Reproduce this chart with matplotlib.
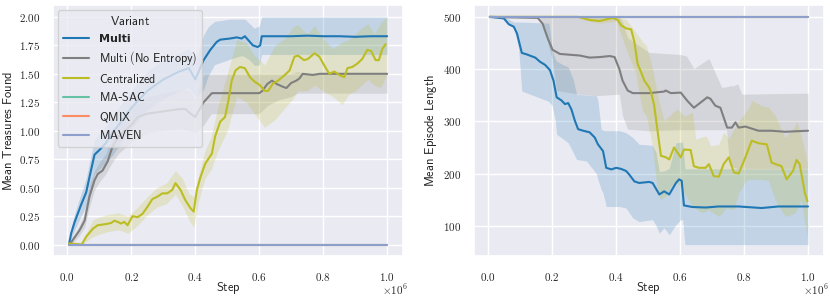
import numpy as np
import matplotlib
matplotlib.use('Agg')
import matplotlib.pyplot as plt
import seaborn as sns
from matplotlib.ticker import FuncFormatter, FixedLocator

sns.set_theme(style='darkgrid')
plt.rcParams['mathtext.fontset'] = 'cm'
plt.rcParams['font.family'] = ['DejaVu Sans']

# steps are in units of 1e6
# ---------------- left: mean treasures found ----------------
tr_multi_x = [0.005, 0.012, 0.023, 0.043, 0.059, 0.069, 0.085, 0.10, 0.12, 0.14, 0.16, 0.20, 0.25, 0.30, 0.35,
              0.38, 0.40, 0.426, 0.447, 0.467, 0.478, 0.509, 0.53, 0.545, 0.555, 0.566, 0.58, 0.595, 0.603, 0.608,
              0.65, 0.70, 0.75, 0.80, 0.85, 0.90, 0.95, 1.0]
tr_multi_y = [0.0, 0.10, 0.20, 0.35, 0.46, 0.59, 0.79, 0.83, 0.89, 0.98, 1.05, 1.20, 1.35, 1.45, 1.52,
              1.55, 1.45, 1.62, 1.71, 1.78, 1.80, 1.81, 1.82, 1.81, 1.83, 1.795, 1.75, 1.735, 1.75, 1.83,
              1.83, 1.83, 1.835, 1.83, 1.83, 1.825, 1.83, 1.83]
tr_multi_bx = [0.005, 0.012, 0.023, 0.043, 0.059, 0.069, 0.085, 0.10, 0.12, 0.14, 0.16, 0.20, 0.25, 0.30, 0.35,
               0.38, 0.40, 0.426, 0.44, 0.46, 0.51, 0.545, 0.555, 0.57, 0.585, 0.60, 0.608, 1.0]
tr_multi_lo = [0.0, 0.05, 0.13, 0.25, 0.34, 0.45, 0.62, 0.66, 0.72, 0.78, 0.86, 1.02, 1.18, 1.28, 1.35,
               1.38, 1.30, 1.36, 1.48, 1.58, 1.63, 1.66, 1.65, 1.62, 1.575, 1.575, 1.67, 1.67]
tr_multi_hi = [0.0, 0.15, 0.27, 0.45, 0.58, 0.72, 0.92, 0.97, 1.03, 1.12, 1.20, 1.35, 1.52, 1.62, 1.68,
               1.72, 1.60, 1.84, 1.91, 1.96, 1.98, 1.98, 1.98, 1.94, 1.90, 1.92, 2.0, 2.0]

tr_noent_x = [0.005, 0.012, 0.038, 0.054, 0.069, 0.085, 0.095, 0.11, 0.126, 0.141, 0.16, 0.20, 0.22, 0.25, 0.30,
              0.35, 0.37, 0.385, 0.40, 0.426, 0.452, 0.50, 0.55, 0.60, 0.61, 0.625, 0.64, 0.655, 0.675, 0.685,
              0.70, 0.716, 0.726, 0.736, 0.767, 0.79, 0.85, 0.90, 0.95, 1.0]
tr_noent_y = [0.0, 0.02, 0.125, 0.21, 0.42, 0.565, 0.62, 0.65, 0.73, 0.86, 0.95, 1.05, 1.12, 1.15, 1.17,
              1.19, 1.19, 1.15, 1.12, 1.25, 1.33, 1.33, 1.33, 1.33, 1.35, 1.41, 1.44, 1.41, 1.385, 1.375,
              1.42, 1.44, 1.46, 1.50, 1.49, 1.50, 1.50, 1.50, 1.50, 1.50]
tr_noent_bx = [0.005, 0.012, 0.038, 0.054, 0.069, 0.085, 0.10, 0.12, 0.14, 0.16, 0.20, 0.25, 0.30, 0.35, 0.38,
               0.40, 0.426, 0.45, 0.60, 0.625, 0.66, 0.70, 0.72, 0.74, 1.0]
tr_noent_lo = [0.0, 0.0, 0.08, 0.15, 0.33, 0.48, 0.55, 0.62, 0.72, 0.80, 0.90, 0.98, 1.0, 1.02, 1.0,
               0.98, 1.05, 1.15, 1.15, 1.22, 1.27, 1.30, 1.33, 1.33, 1.33]
tr_noent_hi = [0.0, 0.05, 0.17, 0.28, 0.52, 0.65, 0.72, 0.80, 0.95, 1.08, 1.20, 1.30, 1.33, 1.36, 1.36,
               1.28, 1.50, 1.50, 1.50, 1.50, 1.50, 1.50, 1.52, 1.50, 1.50]

tr_cent_x = [0.005, 0.02, 0.045, 0.059, 0.08, 0.095, 0.12, 0.137, 0.147, 0.157, 0.168, 0.178, 0.188, 0.204, 0.219,
             0.235, 0.25, 0.266, 0.281, 0.297, 0.312, 0.328, 0.338, 0.354, 0.369, 0.385, 0.395, 0.405, 0.416, 0.431,
             0.452, 0.462, 0.478, 0.493, 0.504, 0.514, 0.526, 0.54, 0.555, 0.571, 0.586, 0.602, 0.617, 0.628, 0.643,
             0.659, 0.68, 0.695, 0.71, 0.721, 0.74, 0.752, 0.773, 0.788, 0.803, 0.819, 0.835, 0.85, 0.866, 0.876,
             0.891, 0.907, 0.922, 0.938, 0.95, 0.964, 0.974, 0.985, 0.995]
tr_cent_y = [0.01, 0.005, 0.0, 0.07, 0.14, 0.17, 0.18, 0.19, 0.21, 0.20, 0.185, 0.20, 0.17, 0.25, 0.24,
             0.27, 0.33, 0.40, 0.42, 0.45, 0.45, 0.48, 0.54, 0.48, 0.39, 0.32, 0.29, 0.48, 0.59, 0.71,
             0.80, 0.95, 1.08, 1.12, 1.27, 1.44, 1.53, 1.56, 1.55, 1.47, 1.43, 1.40, 1.35, 1.35, 1.415,
             1.44, 1.49, 1.53, 1.65, 1.66, 1.62, 1.63, 1.68, 1.65, 1.575, 1.50, 1.52, 1.49, 1.47, 1.55,
             1.56, 1.59, 1.63, 1.71, 1.70, 1.62, 1.62, 1.72, 1.76]
tr_cent_bx = [0.005, 0.045, 0.08, 0.12, 0.16, 0.19, 0.22, 0.25, 0.28, 0.31, 0.338, 0.36, 0.38, 0.395, 0.41,
              0.43, 0.45, 0.47, 0.50, 0.53, 0.56, 0.585, 0.617, 0.65, 0.68, 0.705, 0.72, 0.75, 0.773, 0.80,
              0.83, 0.86, 0.88, 0.90, 0.92, 0.94, 0.96, 0.98, 1.0]
tr_cent_lo = [0.0, 0.0, 0.07, 0.11, 0.13, 0.10, 0.17, 0.26, 0.33, 0.36, 0.44, 0.34, 0.22, 0.15, 0.38,
              0.58, 0.66, 0.82, 1.00, 1.30, 1.25, 1.15, 1.03, 1.10, 1.20, 1.28, 1.35, 1.35, 1.40, 1.35,
              1.30, 1.23, 1.32, 1.35, 1.40, 1.45, 1.40, 1.38, 1.50]
tr_cent_hi = [0.03, 0.02, 0.22, 0.26, 0.28, 0.25, 0.33, 0.42, 0.50, 0.54, 0.65, 0.58, 0.45, 0.42, 0.60,
              0.82, 0.95, 1.20, 1.50, 1.80, 1.77, 1.66, 1.58, 1.75, 1.81, 1.91, 1.93, 1.85, 1.92, 1.81,
              1.72, 1.78, 1.80, 1.85, 1.90, 1.94, 1.85, 1.95, 2.0]

tr_flat_x = [0.005, 1.0]
tr_masac_y = [0.0, 0.0]
tr_qmix_y = [0.0, 0.0]
tr_maven_y = [0.0, 0.0]

# ---------------- right: mean episode length ----------------
ep_multi_x = [0.005, 0.049, 0.064, 0.08, 0.09, 0.105, 0.121, 0.147, 0.162, 0.178, 0.193, 0.204, 0.214, 0.229, 0.24,
              0.25, 0.26, 0.271, 0.281, 0.297, 0.317, 0.333, 0.343, 0.359, 0.369, 0.385, 0.40, 0.415, 0.431, 0.441,
              0.457, 0.472, 0.503, 0.514, 0.535, 0.55, 0.566, 0.587, 0.597, 0.605, 0.612, 0.638, 0.68, 0.72, 0.783,
              0.855, 0.907, 0.959, 1.0]
ep_multi_y = [500, 497, 486, 481, 468, 431, 428, 422, 414, 408, 398, 378, 346, 340, 333,
              335, 323, 301, 285, 282, 279, 269, 256, 243, 211, 208, 211, 209, 205, 198,
              185, 182, 184, 182, 160, 166, 160, 182, 189, 186, 139, 136, 135, 137, 137,
              134, 137, 137, 137]
ep_multi_bx = [0.005, 0.05, 0.08, 0.095, 0.105, 0.19, 0.2, 0.209, 0.214, 0.235, 0.25, 0.266, 0.276, 0.307, 0.328,
               0.338, 0.343, 0.353, 0.359, 0.369, 0.41, 0.431, 0.452, 0.472, 0.514, 0.525, 0.535, 0.55, 0.566,
               0.587, 0.602, 0.608, 0.615, 1.0]
ep_multi_lo = [500, 498, 480, 440, 358, 338, 330, 304, 275, 266, 259, 240, 227, 224, 208,
               200, 189, 170, 163, 137, 137, 134, 115, 108, 112, 100, 86, 96, 83,
               102, 112, 112, 64, 64]
ep_multi_hi = [500, 500, 490, 490, 490, 488, 440, 420, 415, 408, 404, 380, 352, 350, 349,
               349, 340, 285, 283, 282, 282, 278, 269, 256, 254, 240, 204, 205, 210,
               259, 260, 260, 209, 209]

ep_noent_x = [0.005, 0.155, 0.17, 0.186, 0.201, 0.224, 0.245, 0.286, 0.317, 0.348, 0.38, 0.395, 0.41, 0.42, 0.436,
              0.452, 0.503, 0.55, 0.555, 0.571, 0.602, 0.623, 0.643, 0.664, 0.685, 0.695, 0.71, 0.726, 0.747, 0.762,
              0.773, 0.783, 0.804, 0.845, 0.886, 0.928, 1.0]
ep_noent_y = [500, 498, 487, 459, 437, 429, 428, 426, 422, 423, 425, 423, 400, 378, 359,
              354, 354, 357, 359, 354, 355, 339, 326, 336, 346, 343, 330, 326, 288, 288,
              298, 288, 290, 282, 282, 280, 282]
ep_noent_bx = [0.005, 0.16, 0.175, 0.19, 0.2, 0.214, 0.286, 0.333, 0.41, 0.42, 0.436, 0.503, 0.60, 0.62, 0.643,
               0.69, 0.73, 0.745, 0.755, 0.768, 0.78, 0.793, 1.0]
ep_noent_lo = [500, 500, 480, 440, 420, 359, 352, 349, 352, 311, 285, 282, 284, 284, 284,
               284, 284, 284, 215, 212, 210, 210, 210]
ep_noent_hi = [500, 500, 500, 500, 500, 500, 500, 500, 500, 490, 460, 432, 428, 425, 401,
               420, 365, 366, 368, 368, 372, 352, 354]

ep_cent_x = [0.005, 0.28, 0.30, 0.317, 0.348, 0.374, 0.39, 0.405, 0.415, 0.431, 0.447, 0.457, 0.467, 0.478, 0.488,
             0.503, 0.509, 0.519, 0.53, 0.54, 0.556, 0.566, 0.581, 0.592, 0.602, 0.612, 0.633, 0.643, 0.659, 0.68,
             0.69, 0.705, 0.721, 0.736, 0.752, 0.768, 0.783, 0.804, 0.824, 0.845, 0.871, 0.886, 0.917, 0.933, 0.953,
             0.964, 0.974, 0.99, 0.998]
ep_cent_y = [500, 500, 497, 494, 492, 496, 498, 494, 484, 478, 476, 452, 410, 394, 378,
             365, 356, 330, 279, 234, 231, 227, 250, 240, 231, 246, 245, 214, 211, 211,
             218, 195, 194, 218, 231, 202, 200, 231, 263, 258, 256, 221, 214, 189, 205,
             226, 218, 163, 147]
ep_cent_bx = [0.005, 0.28, 0.30, 0.35, 0.40, 0.431, 0.45, 0.462, 0.473, 0.483, 0.494, 0.514, 0.519, 0.53, 0.535,
              0.54, 0.55, 0.556, 0.571, 0.576, 0.592, 0.612, 0.618, 0.638, 0.649, 0.669, 0.68, 0.69, 0.695, 0.721,
              0.736, 0.742, 0.752, 0.768, 0.783, 0.804, 0.814, 0.824, 0.855, 0.876, 0.897, 0.928, 0.959, 0.964,
              0.979, 0.998]
ep_cent_hi = [500, 500, 500, 500, 500, 495, 480, 470, 461, 452, 445, 400, 384, 350, 336,
              325, 301, 305, 312, 317, 323, 311, 311, 317, 266, 270, 272, 262, 253, 256,
              279, 275, 266, 285, 300, 317, 325, 340, 330, 327, 311, 269, 290, 301,
              272, 221]
ep_cent_lo = [500, 500, 494, 488, 492, 439, 410, 391, 349, 320, 311, 253, 220, 163, 155,
              150, 155, 157, 176, 178, 182, 163, 158, 137, 133, 125, 128, 131, 128, 118,
              128, 134, 133, 131, 163, 185, 189, 189, 189, 187, 150, 118, 124, 130,
              150, 76]

ep_flat_x = [0.005, 1.0]
ep_masac_y = [500, 500]
ep_qmix_y = [500, 500]
ep_maven_y = [500, 500]

colors = ['#1f77b4', '#7f7f7f', '#bcbd22', '#66c2a5', '#fc8d62', '#8da0cb']
labels = ['Multi', r'$\mathsf{Multi\ (No\ Entropy)}$', r'$\mathsf{Centralized}$',
          r'$\mathsf{MA}$-$\mathsf{SAC}$', r'$\mathsf{QMIX}$', r'$\mathsf{MAVEN}$']


def band(ax, x, y, bx, lo, hi, color, label):
    ax.fill_between(np.array(bx) * 1e6, lo, hi, color=color, alpha=0.2, linewidth=0)
    ax.plot(np.array(x) * 1e6, y, color=color, lw=1.5, label=label)


def style(ax, ylab, yfmt):
    ax.xaxis.set_major_locator(FixedLocator([0, 2e5, 4e5, 6e5, 8e5, 1e6]))
    ax.xaxis.set_major_formatter(FuncFormatter(lambda v, p: r'$%.1f$' % (v / 1e6)))
    ax.yaxis.set_major_formatter(FuncFormatter(lambda v, p: '$' + (yfmt % v) + '$'))
    ax.tick_params(axis='x', labelsize=8, pad=5)
    ax.tick_params(axis='y', labelsize=8, pad=3)
    ax.set_xlabel(r'$\mathsf{Step}$', fontsize=9, labelpad=-2)
    ax.set_ylabel(ylab, fontsize=9, labelpad=3)
    ax.text(1.015, -0.105, r'$\times10^{6}$', transform=ax.transAxes, ha='right', va='top', fontsize=8)


fig = plt.figure(figsize=(8.3, 2.98), dpi=100)
ax1 = fig.add_axes([0.0639, 0.141, 0.4217, 0.8406])
ax2 = fig.add_axes([0.571, 0.141, 0.4217, 0.8406])

band(ax1, tr_multi_x, tr_multi_y, tr_multi_bx, tr_multi_lo, tr_multi_hi, colors[0], labels[0])
band(ax1, tr_noent_x, tr_noent_y, tr_noent_bx, tr_noent_lo, tr_noent_hi, colors[1], labels[1])
band(ax1, tr_cent_x, tr_cent_y, tr_cent_bx, tr_cent_lo, tr_cent_hi, colors[2], labels[2])
for yy, c, lab in zip([tr_masac_y, tr_qmix_y, tr_maven_y], colors[3:], labels[3:]):
    ax1.plot(np.array(tr_flat_x) * 1e6, yy, color=c, lw=1.5, label=lab)

band(ax2, ep_multi_x, ep_multi_y, ep_multi_bx, ep_multi_lo, ep_multi_hi, colors[0], labels[0])
band(ax2, ep_noent_x, ep_noent_y, ep_noent_bx, ep_noent_lo, ep_noent_hi, colors[1], labels[1])
band(ax2, ep_cent_x, ep_cent_y, ep_cent_bx, ep_cent_lo, ep_cent_hi, colors[2], labels[2])
for yy, c, lab in zip([ep_masac_y, ep_qmix_y, ep_maven_y], colors[3:], labels[3:]):
    ax2.plot(np.array(ep_flat_x) * 1e6, yy, color=c, lw=1.5, label=lab)

style(ax1, r'$\mathsf{Mean\ Treasures\ Found}$', '%.2f')
style(ax2, r'$\mathsf{Mean\ Episode\ Length}$', '%d')
ax1.set_yticks([0, 0.25, 0.5, 0.75, 1.0, 1.25, 1.5, 1.75, 2.0])
ax2.set_yticks([100, 200, 300, 400, 500])

leg = ax1.legend(loc='upper left', title=r'$\mathsf{Variant}$', fontsize=8.7, title_fontsize=9,
                 handlelength=2.2, borderaxespad=0.4, labelspacing=0.45)
leg.get_texts()[0].set_fontweight('bold')
leg.get_texts()[0].set_fontsize(8)

fig.savefig('out.png', dpi=100)
